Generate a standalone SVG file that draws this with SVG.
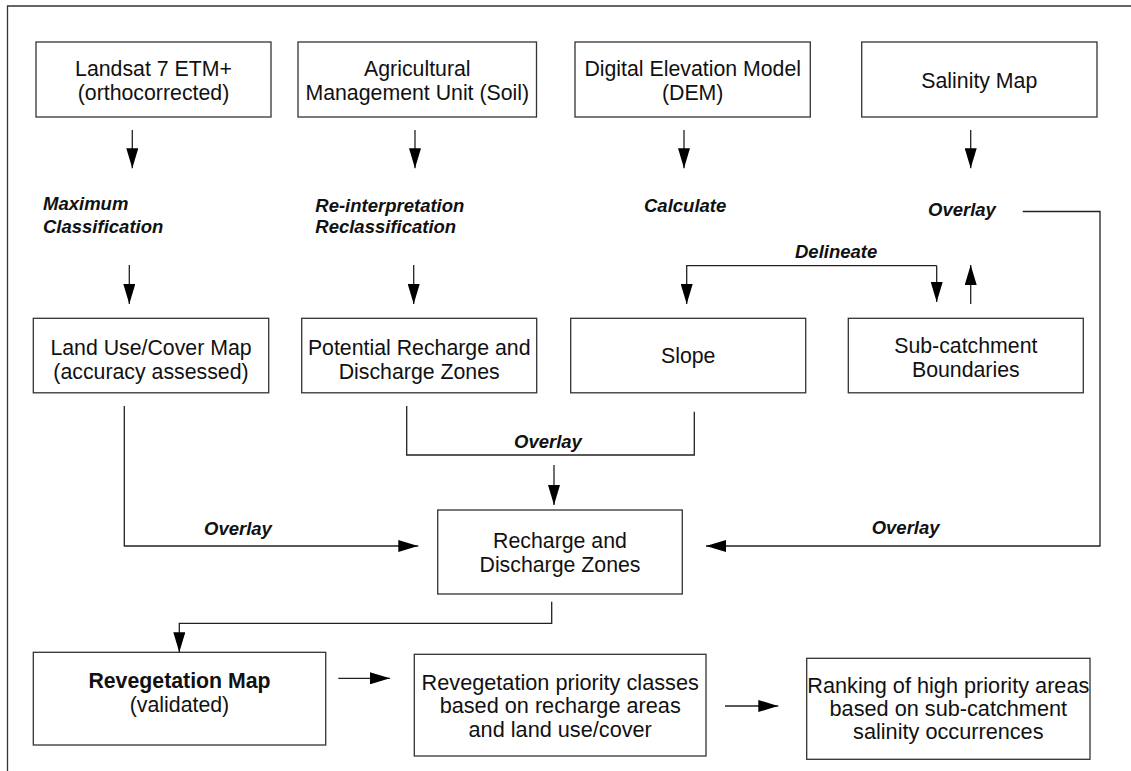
<svg xmlns="http://www.w3.org/2000/svg" width="1131" height="771" viewBox="0 0 1131 771">
<style>
.box{fill:#fff;stroke:#333;stroke-width:1.3}
.t{font-family:"Liberation Sans",Arial,sans-serif;font-size:21.3px;fill:#111;text-anchor:middle}
.tb{font-family:"Liberation Sans",Arial,sans-serif;font-size:21.7px;fill:#111;text-anchor:middle}
.lbl{font-family:"Liberation Sans",Arial,sans-serif;font-size:18.5px;font-weight:bold;font-style:italic;fill:#111}
.ln{fill:none;stroke:#222;stroke-width:1.3}
.frame{fill:none;stroke:#333;stroke-width:1.3}
</style>
<defs>
<marker id="ah" viewBox="0 0 20 12" refX="20" refY="6" markerWidth="20" markerHeight="12" markerUnits="userSpaceOnUse" orient="auto">
<path d="M0,0 L20,6 L0,12 z" fill="#000"/>
</marker>
</defs>
<path class="frame" d="M7.5,771 L7.5,6 L1131,6"/>

<g id="landsat"><rect class="box" x="36" y="42" width="235" height="75"/>
<text class="t" x="153.5" y="76">Landsat 7 ETM+</text><text class="t" x="153.5" y="100">(orthocorrected)</text></g>
<g id="amu"><rect class="box" x="298" y="42" width="238.5" height="75"/>
<text class="t" x="417.3" y="76">Agricultural</text><text class="t" x="417.3" y="100">Management Unit (Soil)</text></g>
<g id="dem"><rect class="box" x="575" y="42" width="235.3" height="75"/>
<text class="t" x="692.7" y="76">Digital Elevation Model</text><text class="t" x="692.7" y="100">(DEM)</text></g>
<g id="salinity"><rect class="box" x="861.7" y="42" width="235.3" height="75"/>
<text class="t" x="979.3" y="88">Salinity Map</text></g>

<g id="landuse"><rect class="box" x="33.3" y="318.3" width="235.4" height="74.5"/>
<text class="t" x="151" y="355">Land Use/Cover Map</text><text class="t" x="151" y="378.5">(accuracy assessed)</text></g>
<g id="potential"><rect class="box" x="301.7" y="318.3" width="235" height="74.5"/>
<text class="t" x="419.2" y="355">Potential Recharge and</text><text class="t" x="419.2" y="378.5">Discharge Zones</text></g>
<g id="slope"><rect class="box" x="570.7" y="318.3" width="235" height="74.5"/>
<text class="t" x="688.2" y="363">Slope</text></g>
<g id="subcatchment"><rect class="box" x="848.3" y="318.3" width="235" height="74.5"/>
<text class="t" x="965.8" y="353">Sub-catchment</text><text class="t" x="965.8" y="376.5">Boundaries</text></g>

<g id="recharge"><rect class="box" x="437.7" y="510" width="244.6" height="84"/>
<text class="t" x="560" y="548">Recharge and</text><text class="t" x="560" y="571.5">Discharge Zones</text></g>

<g id="revegmap"><rect class="box" x="33.3" y="652.3" width="292.4" height="92.7"/>
<text class="t" x="179.5" y="688" font-weight="bold">Revegetation Map</text><text class="t" x="179.5" y="712">(validated)</text></g>
<g id="priority"><rect class="box" x="414.3" y="654.3" width="291.7" height="101.7"/>
<text class="tb" x="560.2" y="690">Revegetation priority classes</text><text class="tb" x="560.2" y="713">based on recharge areas</text><text class="tb" x="560.2" y="736.5">and land use/cover</text></g>
<g id="ranking"><rect class="box" x="806.7" y="658.3" width="283.3" height="101"/>
<text class="tb" x="948.3" y="693">Ranking of high priority areas</text><text class="tb" x="948.3" y="716">based on sub-catchment</text><text class="tb" x="948.3" y="739">salinity occurrences</text></g>

<g id="labels">
<text class="lbl" x="43" y="210">Maximum</text><text class="lbl" x="43" y="232.5">Classification</text>
<text class="lbl" x="315.3" y="211.5">Re-interpretation</text><text class="lbl" x="315.3" y="233">Reclassification</text>
<text class="lbl" x="644" y="211.5">Calculate</text>
<text class="lbl" x="928" y="216">Overlay</text>
<text class="lbl" x="795" y="257.7">Delineate</text>
<text class="lbl" x="514" y="448.3">Overlay</text>
<text class="lbl" x="204" y="535">Overlay</text>
<text class="lbl" x="871.7" y="534">Overlay</text>
</g>

<g id="connectors">
<path class="ln" d="M132.3,130 L132.3,168.3" marker-end="url(#ah)"/>
<path class="ln" d="M415,130 L415,168.3" marker-end="url(#ah)"/>
<path class="ln" d="M684,130 L684,168.3" marker-end="url(#ah)"/>
<path class="ln" d="M970.7,130 L970.7,168.3" marker-end="url(#ah)"/>
<path class="ln" d="M129.3,265 L129.3,304" marker-end="url(#ah)"/>
<path class="ln" d="M413.7,265 L413.7,304" marker-end="url(#ah)"/>
<path class="ln" d="M936.7,265.7 L686.7,265.7 L686.7,304" marker-end="url(#ah)"/>
<path class="ln" d="M936.7,265.7 L936.7,302" marker-end="url(#ah)"/>
<path class="ln" d="M970.7,304 L970.7,265" marker-end="url(#ah)"/>
<path class="ln" d="M1022.7,211.5 L1100,211.5 L1100,546 L706,546" marker-end="url(#ah)"/>
<path class="ln" d="M124.3,406 L124.3,546 L418.3,546" marker-end="url(#ah)"/>
<path class="ln" d="M406.7,406 L406.7,455 L694.3,455 L694.3,411.7"/>
<path class="ln" d="M554,465 L554,505" marker-end="url(#ah)"/>
<path class="ln" d="M551.7,601.7 L551.7,623.3 L179.3,623.3 L179.3,652.3" marker-end="url(#ah)"/>
<path class="ln" d="M338.3,678.3 L390,678.3" marker-end="url(#ah)"/>
<path class="ln" d="M725,706 L778.3,706" marker-end="url(#ah)"/>
</g>
</svg>
